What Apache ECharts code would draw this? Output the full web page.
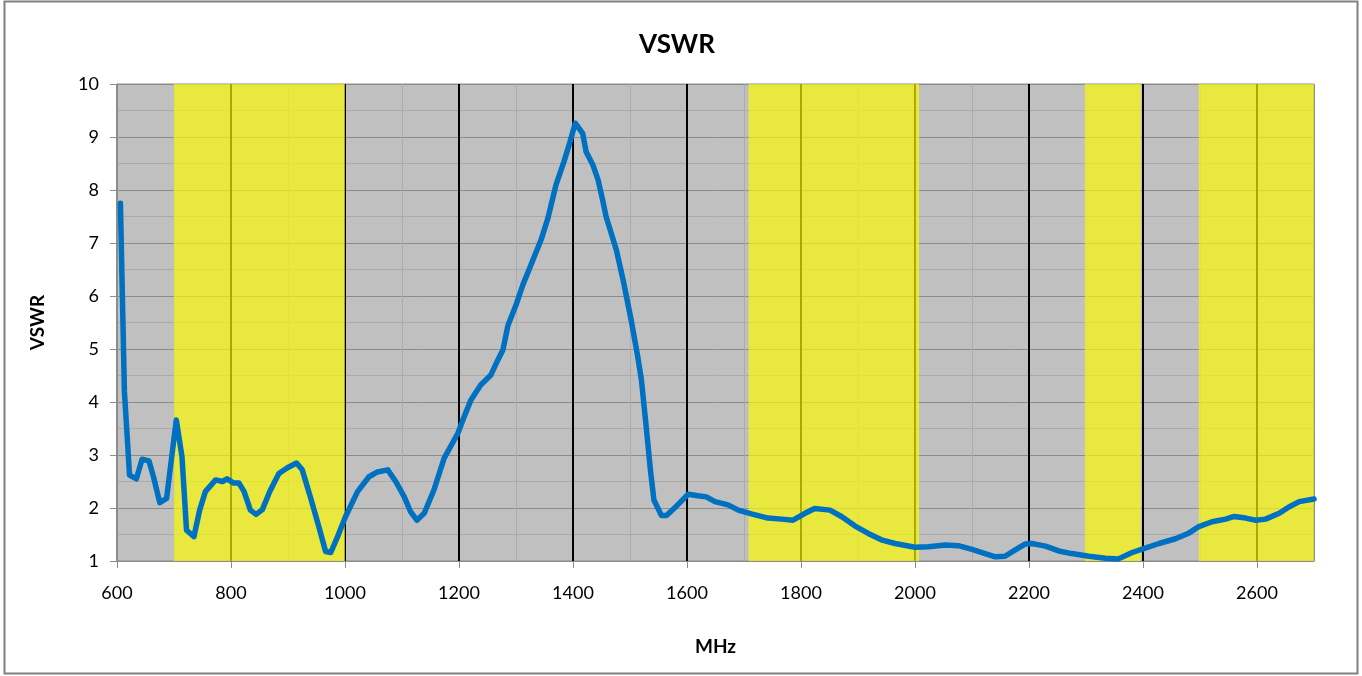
<!DOCTYPE html>
<html>
<head>
<meta charset="utf-8">
<script src="https://cdn.jsdelivr.net/npm/echarts@6/dist/echarts.min.js"></script>
<style>
html,body{margin:0;padding:0;background:#fff;}
#chart{width:1362px;height:676px;}
</style>
</head>
<body>
<div id="chart"></div>
<script>
// Frequency (MHz) and VSWR values
var freqMHz = [606,613,622,634,644,656,664,675,687,704,714,722,735,745,755,773,785,793,805,814,823,834,844,855,868,884,899,915,925,940,954,966,975,987,1001,1022,1042,1057,1075,1089,1104,1115,1126,1139,1156,1174,1198,1209,1221,1238,1256,1268,1277,1286,1300,1312,1326,1344,1356,1370,1384,1394,1404,1417,1423,1435,1444,1452,1458,1476,1488,1502,1513,1520,1529,1536,1542,1555,1564,1581,1602,1619,1634,1649,1672,1690,1713,1742,1766,1786,1807,1824,1851,1871,1895,1918,1941,1965,2000,2024,2053,2076,2100,2123,2141,2158,2176,2193,2205,2229,2252,2275,2305,2334,2357,2381,2400,2428,2457,2481,2498,2521,2545,2560,2580,2598,2615,2639,2656,2674,2700];
var vswr = [7.75,4.2,2.62,2.55,2.92,2.89,2.59,2.10,2.18,3.66,2.97,1.58,1.46,1.96,2.31,2.53,2.50,2.55,2.47,2.47,2.31,1.96,1.88,1.97,2.31,2.65,2.76,2.85,2.72,2.18,1.65,1.18,1.16,1.46,1.84,2.31,2.59,2.68,2.72,2.50,2.21,1.93,1.77,1.90,2.34,2.94,3.41,3.72,4.04,4.32,4.51,4.79,4.98,5.45,5.83,6.21,6.58,7.06,7.47,8.09,8.53,8.88,9.26,9.07,8.72,8.47,8.19,7.81,7.50,6.87,6.30,5.55,4.89,4.42,3.47,2.70,2.15,1.86,1.86,2.03,2.26,2.23,2.21,2.12,2.06,1.96,1.89,1.81,1.79,1.77,1.90,1.99,1.96,1.84,1.66,1.52,1.40,1.33,1.26,1.27,1.30,1.29,1.22,1.14,1.08,1.09,1.21,1.32,1.33,1.28,1.19,1.14,1.09,1.05,1.04,1.16,1.23,1.33,1.42,1.53,1.65,1.74,1.79,1.84,1.81,1.77,1.79,1.90,2.02,2.12,2.17];
// Highlighted frequency bands (MHz)
var bandStart = [700, 1708, 2298, 2498];
var bandEnd   = [1000, 2007, 2396, 2700];
var titleText = 'VSWR';
var xName = 'MHz';
var yName = 'VSWR';

var seriesData = freqMHz.map(function(f, i){ return [f, vswr[i]]; });
var bands = bandStart.map(function(s, i){ return [{xAxis: s}, {xAxis: bandEnd[i]}]; });

var font = 'Lato, "Noto Sans", sans-serif';
var chart = echarts.init(document.getElementById('chart'), null, {renderer: 'canvas'});
chart.setOption({
  animation: false,
  backgroundColor: '#ffffff',
  graphic: [
    {type: 'rect', shape: {x: 4.5, y: 1.5, width: 1353, height: 672}, style: {fill: 'none', stroke: '#808080', lineWidth: 2}, silent: true},
    {type: 'text', x: 677, y: 45, style: {text: titleText, font: 'bold 26px ' + font, fill: '#000', align: 'center', verticalAlign: 'middle'}}
  ],
  grid: {
    left: 117, right: 48, top: 84, bottom: 115,
    show: true, backgroundColor: '#c0c0c0', borderColor: '#8c8c8c', borderWidth: 1,
    containLabel: false
  },
  xAxis: {
    type: 'value', min: 600, max: 2700, interval: 200,
    name: xName, nameLocation: 'middle', nameGap: 76,
    nameTextStyle: {fontFamily: font, fontWeight: 'bold', fontSize: 19, color: '#000'},
    axisLine: {show: true, onZero: false, lineStyle: {color: '#8c8c8c', width: 1}},
    axisTick: {show: true, length: 7, lineStyle: {color: '#8c8c8c'}},
    axisLabel: {fontFamily: font, fontSize: 18, color: '#000', margin: 23, showMaxLabel: false,
      formatter: function(v){ return String(v); }},
    splitLine: {show: true, lineStyle: {color: ['#8c8c8c','#000','#000','#000','#000','#000','#000','#000','#000','#000','#000','#8c8c8c'], width: 2}},
    minorTick: {show: false, splitNumber: 2},
    minorSplitLine: {show: true, lineStyle: {color: '#acacac', width: 1}}
  },
  yAxis: {
    type: 'value', min: 1, max: 10, interval: 1,
    name: yName, nameLocation: 'middle', nameGap: 70, nameRotate: 90,
    nameTextStyle: {fontFamily: font, fontWeight: 'bold', fontSize: 19, color: '#000'},
    axisLine: {show: true, lineStyle: {color: '#8c8c8c', width: 1}},
    axisTick: {show: true, length: 7, lineStyle: {color: '#8c8c8c'}},
    axisLabel: {fontFamily: font, fontSize: 18, color: '#000', margin: 18},
    splitLine: {show: true, lineStyle: {color: '#8c8c8c', width: 1}},
    minorTick: {show: false, splitNumber: 2},
    minorSplitLine: {show: true, lineStyle: {color: '#aaaaaa', width: 1}}
  },
  series: [{
    type: 'line',
    data: seriesData,
    showSymbol: false,
    symbol: 'none',
    smooth: false,
    lineStyle: {color: '#0070C0', width: 5.5, join: 'round', cap: 'round'},
    z: 5,
    markArea: {
      silent: true,
      itemStyle: {color: 'rgba(252,252,0,0.67)'},
      data: bands
    }
  }]
});
</script>
</body>
</html>
